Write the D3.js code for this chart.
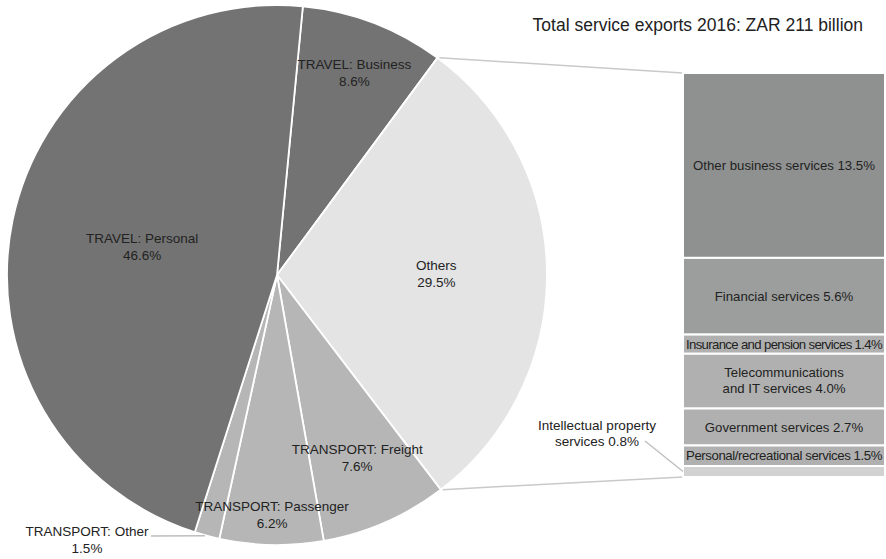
<!DOCTYPE html>
<html>
<head>
<meta charset="utf-8">
<script src="https://cdn.jsdelivr.net/npm/d3@7"></script>
<style>
  html, body { margin: 0; padding: 0; background: #fff; }
  svg { display: block; font-family: "Liberation Sans", Arial, sans-serif; }
</style>
</head>
<body>
<svg id="chart" width="886" height="559"></svg>
<script>
// Service export shares, South Africa 2016 (% of total)
const pieCategories = ["TRAVEL: Business", "Others", "TRANSPORT: Freight", "TRANSPORT: Passenger", "TRANSPORT: Other", "TRAVEL: Personal"];
const pieValues = [8.6, 29.5, 7.6, 6.2, 1.5, 46.6];
const pieGroups = ["travel", "others", "transport", "transport", "transport", "travel"];

// Breakdown of the "Others" slice
const barCategories = ["Other business services", "Financial services", "Insurance and pension services", "Telecommunications and IT services", "Government services", "Personal/recreational services", "Intellectual property services"];
const barValues = [13.5, 5.6, 1.4, 4.0, 2.7, 1.5, 0.8];

const titleText = "Total service exports 2016: ZAR 211 billion";

const svg = d3.select("#chart");
const fmt = d3.format(".1f");
const labelSize = 13.5;

// ---- pie ----
const cx = 277, cy = 275, R = 270;
const startDeg = 5.5;
const groupColor = d3.scaleOrdinal()
  .domain(["travel", "others", "transport"])
  .range(["#737373", "#e4e4e4", "#b6b6b6"]);

const pieData = pieCategories.map((c, i) => ({ name: c, value: pieValues[i], group: pieGroups[i] }));
const pie = d3.pie().sort(null).value(d => d.value)
  .startAngle(startDeg * Math.PI / 180)
  .endAngle(startDeg * Math.PI / 180 + 2 * Math.PI);
const arcs = pie(pieData);
const arc = d3.arc().innerRadius(0).outerRadius(R);

const gPie = svg.append("g").attr("transform", `translate(${cx},${cy})`);
gPie.selectAll("path").data(arcs).join("path")
  .attr("d", arc)
  .attr("fill", d => groupColor(d.data.group))
  .attr("stroke", "#fff")
  .attr("stroke-width", 1.8)
  .attr("stroke-linejoin", "round");

// label distance from centre, as a fraction of the radius
const labelRadius = { "TRAVEL: Business": 0.8, "Others": 0.59, "TRANSPORT: Freight": 0.74, "TRANSPORT: Passenger": 0.89, "TRAVEL: Personal": 0.51 };
const pointAt = (a, r) => [r * Math.sin(a), -r * Math.cos(a)];

arcs.forEach(d => {
  const mid = (d.startAngle + d.endAngle) / 2;
  let x, y;
  const t = gPie.append("text")
    .attr("text-anchor", "middle")
    .attr("font-size", labelSize)
    .attr("fill", "#222");
  if (labelRadius[d.data.name] !== undefined) {
    [x, y] = pointAt(mid, labelRadius[d.data.name] * R);
  } else {
    // small slice: label outside with a leader line
    const [ex, ey] = pointAt(mid, R);
    x = -190; y = 265;
    gPie.append("line")
      .attr("x1", x + 64).attr("y1", y - 4)
      .attr("x2", ex - 2).attr("y2", ey)
      .attr("stroke", "#bdbdbd").attr("stroke-width", 1.3);
  }
  t.append("tspan").attr("x", x).attr("y", y - 4).text(d.data.name);
  t.append("tspan").attr("x", x).attr("y", y + 13).text(fmt(d.data.value) + "%");
});

// ---- bar of pie ----
const others = arcs.find(d => d.data.name === "Others");
const barX0 = 683, barX1 = 885;
const barTotal = d3.sum(barValues);
const y = d3.scaleLinear().domain([0, barTotal]).range([73, 477]);
const cum = d3.cumsum(barValues);
const barData = barCategories.map((c, i) => ({ name: c, value: barValues[i], y0: cum[i] - barValues[i], y1: cum[i] }));
const barColor = d3.scaleOrdinal().domain(barCategories)
  .range(["#8f9190", "#9c9e9d", "#afb0af", "#afb0af", "#afb0af", "#afb0af", "#d2d2d2"]);

// connectors from the "Others" slice to the bar
const [sx, sy] = pointAt(others.startAngle, R);
const [tx, ty] = pointAt(others.endAngle, R);
svg.append("line")
  .attr("x1", cx + sx + 2).attr("y1", cy + sy)
  .attr("x2", barX0).attr("y2", y(0))
  .attr("stroke", "#c9c9c9").attr("stroke-width", 1.5);
svg.append("line")
  .attr("x1", cx + tx + 2).attr("y1", cy + ty)
  .attr("x2", barX0).attr("y2", y(barTotal))
  .attr("stroke", "#c9c9c9").attr("stroke-width", 1.5);

const gBar = svg.append("g");
gBar.selectAll("rect").data(barData).join("rect")
  .attr("x", barX0)
  .attr("width", barX1 - barX0)
  .attr("y", d => y(d.y0))
  .attr("height", d => y(d.y1) - y(d.y0))
  .attr("fill", d => barColor(d.name))
  .attr("stroke", "#fff")
  .attr("stroke-width", 2);

const barMid = (barX0 + barX1) / 2;
const barSize = 13.2;
barData.forEach(d => {
  const cyb = (y(d.y0) + y(d.y1)) / 2;
  const label = d.name + " " + fmt(d.value) + "%";
  if (d.name === "Intellectual property services") {
    const lx = 597;
    const t = svg.append("text").attr("text-anchor", "middle").attr("font-size", labelSize).attr("fill", "#222");
    t.append("tspan").attr("x", lx).attr("y", 430).text("Intellectual property");
    t.append("tspan").attr("x", lx).attr("y", 446).text("services " + fmt(d.value) + "%");
    svg.append("line")
      .attr("x1", 645).attr("y1", 441)
      .attr("x2", barX0).attr("y2", cyb)
      .attr("stroke", "#bdbdbd").attr("stroke-width", 1.3);
  } else if (d.name === "Telecommunications and IT services") {
    const t = svg.append("text").attr("text-anchor", "middle").attr("font-size", barSize).attr("fill", "#222");
    t.append("tspan").attr("x", barMid).attr("y", cyb - 4).text("Telecommunications");
    t.append("tspan").attr("x", barMid).attr("y", cyb + 12).text("and IT services " + fmt(d.value) + "%");
  } else {
    const t = svg.append("text")
      .attr("x", barMid).attr("y", cyb + 4.5)
      .attr("text-anchor", "middle").attr("font-size", barSize).attr("fill", "#222")
      .text(label);
    // tighten letter spacing on labels wider than the bar
    const avail = barX1 - barX0 - 6;
    const w = t.node().getComputedTextLength();
    if (w > avail) {
      t.attr("letter-spacing", ((avail - w) / label.length).toFixed(3) + "px");
    }
  }
});

// ---- title ----
svg.append("text")
  .attr("x", 863).attr("y", 31)
  .attr("text-anchor", "end")
  .attr("font-size", 17.5)
  .attr("fill", "#222")
  .text(titleText);
</script>
</body>
</html>
